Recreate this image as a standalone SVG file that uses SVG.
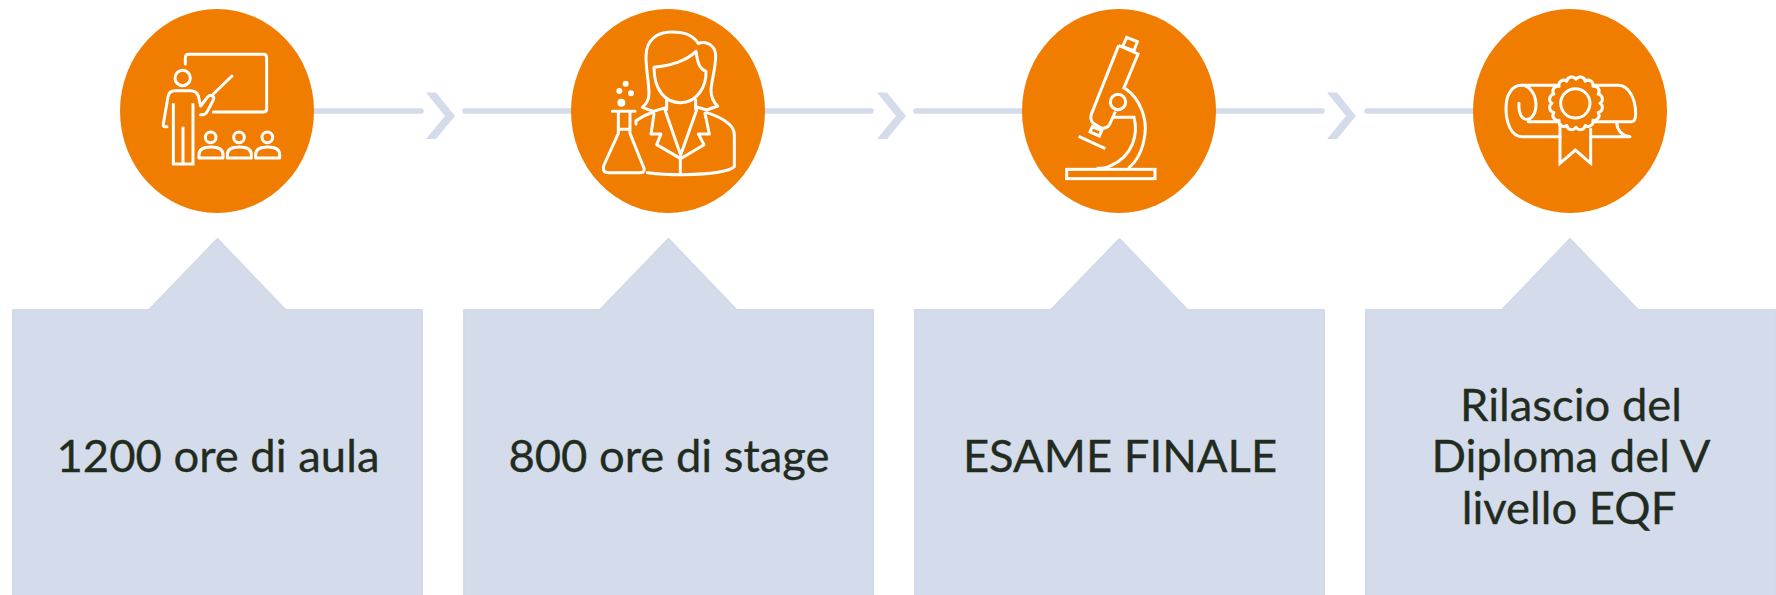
<svg xmlns="http://www.w3.org/2000/svg" width="1776" height="595" viewBox="0 0 1776 595">
<style>
.box{fill:#d4dbea;stroke:#d2d9e9;stroke-width:2;stroke-linejoin:round}
.disc{fill:#f07c00}
.icon{fill:none;stroke:#fff;stroke-width:9;stroke-linecap:round;stroke-linejoin:round}
.square{stroke-linecap:butt;stroke-linejoin:miter}
.dot{fill:#fff;stroke:none}
.label{font-family:"Lato","Liberation Sans",sans-serif;font-size:45.4px;fill:#222b20;stroke:#222b20;stroke-width:.3;text-anchor:middle}
.line{stroke:#d4dbea;stroke-width:5.5;stroke-linecap:round;fill:none}
.chev{fill:#d4dbea}
</style>
<defs>
<polygon id="chevron" points="0,0 10,0 29,23.5 10,46.5 0,46.5 19,23.500"/>
<path id="student" d="M297 474H369V464Q369 441 333 441Q297 441 297 464Z"/>
</defs>
<g id="connectors">
<path class="line" d="M217 111H421M465 111H871M916 111H1322M1367 111H1570"/>
<use href="#chevron" class="chev" x="426" y="92.500"/>
<use href="#chevron" class="chev" x="877" y="92.500"/>
<use href="#chevron" class="chev" x="1327" y="92.500"/>
</g>
<g id="node-1">
<path class="box" d="M13 310H149L217.500 239L285.500 310H422V596H13Z"/>
<ellipse class="disc" cx="217" cy="111" rx="97" ry="102"/>
<g class="icon" transform="translate(100 0) scale(.33333)">
<path d="M256 192V173Q256 163 266 163H490Q500 163 500 173V326Q500 336 490 336H340"/>
<circle cx="248" cy="234" r="23"/>
<path d="M201 380H194Q189 380 190 372L204 290Q207 272 225 272H270Q290 272 295 288L302 318L322 292Q328 284 336 287Q344 291 340 300L322 334Q317 344 308 344H302"/>
<path d="M340 282L396 228"/>
<path class="square" d="M220 310V492H279V310M249 380V492"/>
<circle cx="332" cy="412" r="16"/><circle cx="417" cy="412" r="16"/><circle cx="502" cy="412" r="16"/>
<use href="#student"/><use href="#student" x="85"/><use href="#student" x="170"/>
</g>
<text class="label" x="218" y="472">1200 ore di aula</text>
</g>
<g id="node-2">
<path class="box" d="M464 310H600L668.500 239L736.500 310H873V596H464Z"/>
<ellipse class="disc" cx="668" cy="111" rx="97" ry="102"/>
<g class="icon" transform="translate(550 0) scale(.33333)">
<path d="M445 130C425 100 395 96 365 96C320 96 288 120 288 170C288 210 296 240 297 280C297 300 290 312 277 322L310 334L350 322"/>
<path d="M445 130C470 122 495 135 497 165C498 200 485 240 483 270C483 295 492 308 503 318L470 330L437 320"/>
<path d="M312 202C360 198 410 182 438 154C442 180 445 205 468 214C470 260 440 308 392 308C345 308 312 270 312 202Z"/>
<path d="M350 300V328M437 300V328M345 330L392 465L440 330"/>
<path d="M312 342L303 402H333L320 434L392 476L462 434L445 402H478L465 340"/>
<path d="M258 372V362Q280 346 310 336M470 338Q510 350 535 370Q553 385 553 405V500Q530 522 400 524Q340 524 292 518"/>
<path d="M391 470V522"/>
<path d="M187 334H255M205 340V400L162 495Q155 518 175 518H270Q290 518 278 495L240 400V340M205 388H240"/>
<circle class="dot" cx="214" cy="308" r="12"/><circle class="dot" cx="208" cy="273" r="9"/><circle class="dot" cx="227" cy="251" r="9"/><circle class="dot" cx="243" cy="280" r="9"/>
</g>
<text class="label" x="669" y="472">800 ore di stage</text>
</g>
<g id="node-3">
<path class="box" d="M915 310H1051L1119.500 239L1187.500 310H1324V596H915Z"/>
<ellipse class="disc" cx="1119" cy="111" rx="97" ry="102"/>
<g class="icon square" transform="translate(1010 0) scale(.33333)">
<path d="M350 112L382 125L372 152L338 140Z"/>
<path d="M326 136L384 162L340 268M326 136L245 340Q238 358 250 370L270 382Q285 390 298 375L316 335"/>
<path d="M247 380L275 392L268 408L240 396Z"/>
<circle cx="324" cy="306" r="23"/>
<path d="M345 265C395 300 410 360 405 400C400 445 385 480 355 505M312 352H372C385 400 370 470 300 498Q285 505 260 505"/>
<rect x="170" y="508" width="265" height="28"/>
<path d="M206 409L286 446"/>
</g>
<text class="label" x="1120" y="472">ESAME FINALE</text>
</g>
<g id="node-4">
<path class="box" d="M1366 310H1502L1570 239L1638 310H1776V596H1366Z"/>
<ellipse class="disc" cx="1570" cy="111" rx="97" ry="102"/>
<g class="icon" transform="translate(1460 0) scale(.33333)">
<path d="M292 256H185C155 256 138 285 138 325C138 370 155 410 185 410H300"/>
<path d="M185 256C210 256 228 285 228 315C228 340 215 358 200 358C185 358 175 340 177 310"/>
<path d="M205 365H290M405 256H475C505 256 527 295 527 340Q527 365 515 365H405M470 368C472 395 490 408 510 410H395"/>
<path transform="translate(348 310)" d="M72 0A15 15 0 0 1 66.500 27.600A15 15 0 0 1 50.900 50.900A15 15 0 0 1 27.600 66.500A15 15 0 0 1 0 72A15 15 0 0 1 -27.600 66.500A15 15 0 0 1 -50.900 50.900A15 15 0 0 1 -66.500 27.600A15 15 0 0 1 -72 0A15 15 0 0 1 -66.500 -27.600A15 15 0 0 1 -50.900 -50.900A15 15 0 0 1 -27.600 -66.500A15 15 0 0 1 0 -72A15 15 0 0 1 27.600 -66.500A15 15 0 0 1 50.900 -50.900A15 15 0 0 1 66.500 -27.600A15 15 0 0 1 72 0Z"/>
<circle cx="346" cy="310" r="44"/>
<path class="square" d="M300 370V490L346 450L392 490V385"/>
</g>
<text class="label" x="1571" y="421">Rilascio del</text>
<text class="label" x="1571" y="472">Diploma del V</text>
<text class="label" x="1569" y="524">livello EQF</text>
</g>
</svg>
